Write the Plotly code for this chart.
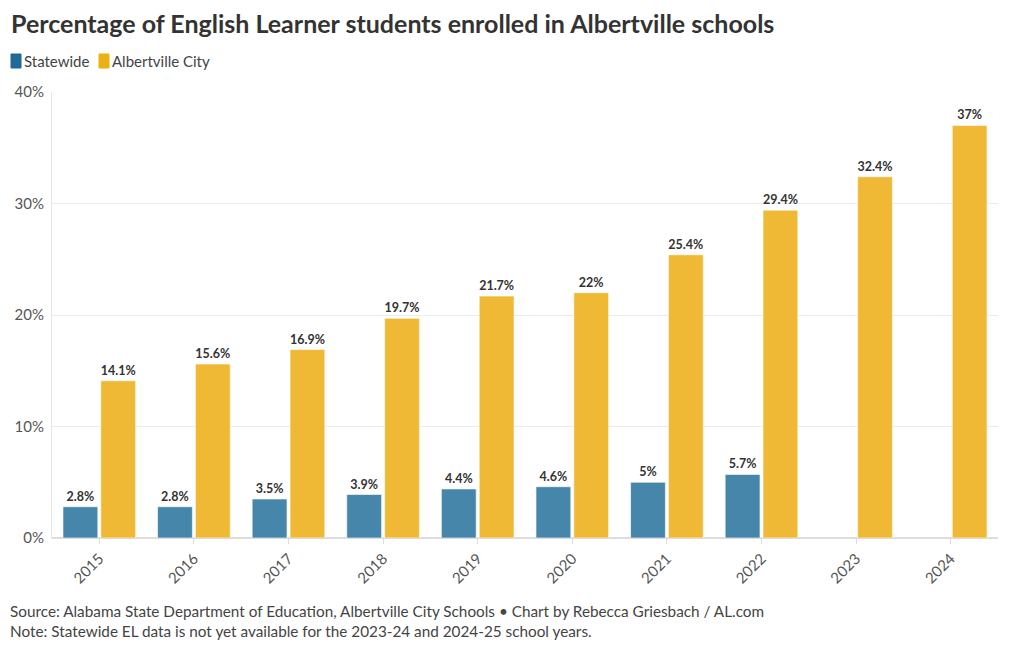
import plotly.graph_objects as go

years = ["2015", "2016", "2017", "2018", "2019", "2020", "2021", "2022", "2023", "2024"]
statewide = [2.8, 2.8, 3.5, 3.9, 4.4, 4.6, 5, 5.7, None, None]
albertville = [14.1, 15.6, 16.9, 19.7, 21.7, 22, 25.4, 29.4, 32.4, 37]
y_ticks = [0, 10, 20, 30, 40]
y_tick_labels = [f"{v}%" for v in y_ticks]
series_names = ["Statewide", "Albertville City"]


def fmt(vals):
    return ["" if v is None else f"{v:g}%" for v in vals]


FONT = "Lato"
W, H = 1020, 650
ML, MR, MT, MB = 52, 22, 92, 112
PW, PH = W - ML - MR, H - MT - MB


def px(x):
    return (x - ML) / PW


def py(y):
    return (MT + PH - y) / PH


bar_colors = ["#4686aa", "#f0b935"]
legend_colors = ["#1f6a96", "#ebb013"]

fig = go.Figure()
for name, vals, col in zip(series_names, [statewide, albertville], bar_colors):
    fig.add_trace(go.Bar(
        x=years, y=vals, name=name, text=fmt(vals), texttemplate="%{text}",
        marker=dict(color=col, line=dict(color="rgba(255,255,255,0.6)", width=1)),
        textposition="outside", constraintext="none",
        textfont=dict(family=FONT, size=12.5, color="#333333", weight="bold"),
        cliponaxis=False, showlegend=False,
    ))

# legend swatches + labels
shapes = []
annotations = []
legend_x = [11, 99]
for lx, name, col in zip(legend_x, series_names, legend_colors):
    shapes.append(dict(type="rect", xref="paper", yref="paper",
                       x0=px(lx), x1=px(lx + 10), y0=py(68), y1=py(54),
                       fillcolor=col, line=dict(color=col, width=1)))
    annotations.append(dict(text=name, xref="paper", yref="paper", x=px(lx + 11), y=py(61),
                            xanchor="left", yanchor="middle", showarrow=False,
                            font=dict(size=15, color="#444444")))

annotations += [
    dict(text="Source: Alabama State Department of Education, Albertville City Schools • Chart by Rebecca Griesbach / AL.com",
         xref="paper", yref="paper", x=px(8), y=py(611), xanchor="left", yanchor="middle",
         showarrow=False, font=dict(size=15.3, color="#444444")),
    dict(text="Note: Statewide EL data is not yet available for the 2023-24 and 2024-25 school years.",
         xref="paper", yref="paper", x=px(8), y=py(631), xanchor="left", yanchor="middle",
         showarrow=False, font=dict(size=15.3, color="#444444")),
]

fig.update_layout(
    width=W, height=H,
    paper_bgcolor="white", plot_bgcolor="white",
    font=dict(family=FONT, color="#444444", size=15),
    margin=dict(l=ML, r=MR, t=MT, b=MB, autoexpand=False),
    barmode="group", bargap=0.2, bargroupgap=0.08,
    title=dict(text="<b>Percentage of English Learner students enrolled in Albertville schools</b>",
               xref="container", x=11 / W, xanchor="left", yref="container", y=1 - 24 / H, yanchor="middle",
               pad=dict(l=0, r=0, t=0, b=0),
               font=dict(family=FONT, size=25, color="#333333")),
    showlegend=False,
    xaxis=dict(tickangle=-45, ticks="outside", ticklen=5, tickcolor="#dddddd", automargin=False,
               tickfont=dict(size=15, color="#555555"), showgrid=False, showline=False),
    yaxis=dict(range=[0, 40], tickvals=y_ticks, ticktext=y_tick_labels, automargin=False,
               tickfont=dict(size=15, color="#555555"),
               showgrid=True, gridcolor="#ebebeb", zeroline=True, zerolinecolor="#dddddd",
               showline=True, linecolor="#e6e6e6", ticks="", ticklabelstandoff=4),
    shapes=shapes,
    annotations=annotations,
)

fig.write_html("out.html", config={"displayModeBar": False},
               post_script="document.body.style.margin='0';document.body.style.overflow='hidden';")
